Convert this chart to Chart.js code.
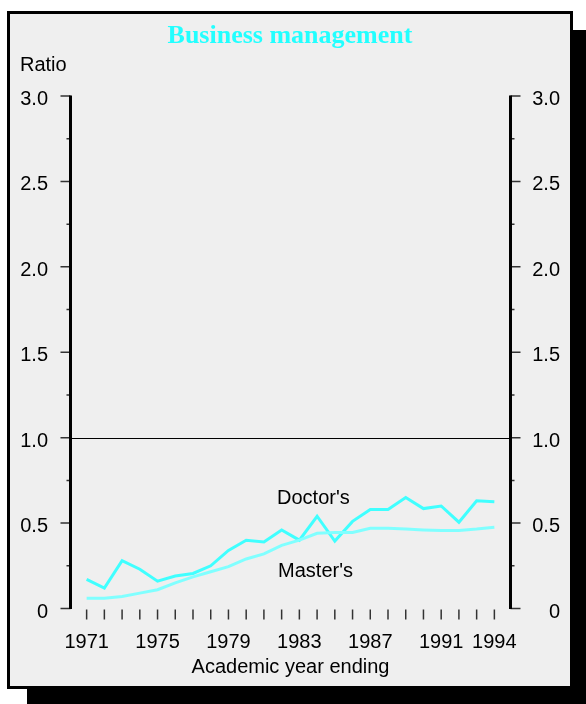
<!DOCTYPE html>
<html>
<head>
<meta charset="utf-8">
<script src="https://cdn.jsdelivr.net/npm/chart.js@4/dist/chart.umd.min.js"></script>
<style>
  html, body { margin: 0; padding: 0; background: #ffffff; }
  #wrap { position: relative; width: 586px; height: 704px; overflow: hidden; }
  #shadow { position: absolute; left: 27px; top: 30px; width: 559px; height: 674px; background: #000; }
  #panel { position: absolute; left: 7px; top: 11px; width: 560px; height: 672px; background: #efefef; border: 3px solid #000; }
  #c { position: absolute; left: 0; top: 0; }
</style>
</head>
<body>
<div id="wrap">
  <div id="shadow"></div>
  <div id="panel"></div>
  <canvas id="c" width="586" height="704"></canvas>
</div>
<script>
const years = [1971,1972,1973,1974,1975,1976,1977,1978,1979,1980,1981,1982,1983,1984,1985,1986,1987,1988,1989,1990,1991,1992,1993,1994];
const doctorRatio = [0.17,0.12,0.28,0.23,0.16,0.19,0.205,0.25,0.34,0.40,0.39,0.46,0.40,0.54,0.395,0.51,0.58,0.58,0.65,0.585,0.60,0.505,0.63,0.625];
const masterRatio = [0.06,0.06,0.07,0.09,0.11,0.15,0.185,0.215,0.245,0.29,0.32,0.37,0.40,0.44,0.445,0.445,0.47,0.47,0.465,0.46,0.457,0.457,0.465,0.476];
const xTickLabels = [1971,1975,1979,1983,1987,1991,1994];
const yTicks = [0,0.25,0.5,0.75,1,1.25,1.5,1.75,2,2.25,2.5,2.75,3];
const yTickLabels = ["0","","0.5","","1.0","","1.5","","2.0","","2.5","","3.0"];
const titleText = "Business management";
const yTitle = "Ratio";
const xTitle = "Academic year ending";
const seriesLabels = [
  { text: "Doctor's", x: 1981.74, y: 0.612 },
  { text: "Master's", x: 1981.8, y: 0.184 }
];

const SANS = '"Liberation Sans", Arial, sans-serif';
const SERIF = '"Liberation Serif", "Times New Roman", serif';

const decor = {
  id: 'decor',
  beforeDatasetsDraw(chart) {
    const ctx = chart.ctx;
    const xs = chart.scales.x, ys = chart.scales.y;
    const a = chart.chartArea;
    ctx.save();
    // reference line at 1.0
    ctx.strokeStyle = '#000';
    ctx.lineWidth = 1;
    const y1 = Math.round(ys.getPixelForValue(1)) + 0.5;
    ctx.beginPath(); ctx.moveTo(a.left, y1); ctx.lineTo(a.right, y1); ctx.stroke();
    ctx.restore();
  },
  afterDatasetsDraw(chart) {
    const ctx = chart.ctx;
    const xs = chart.scales.x, ys = chart.scales.y;
    const a = chart.chartArea;
    const top = ys.getPixelForValue(3), bot = ys.getPixelForValue(0);
    ctx.save();
    // y ticks (both sides)
    ctx.strokeStyle = '#333';
    ctx.lineWidth = 1.5;
    yTicks.forEach((v, i) => {
      const y = ys.getPixelForValue(v);
      const len = yTickLabels[i] !== "" ? 10 : 4;
      ctx.beginPath();
      ctx.moveTo(a.left - len, y); ctx.lineTo(a.left, y);
      ctx.moveTo(a.right, y); ctx.lineTo(a.right + len, y);
      ctx.stroke();
    });
    // axis lines
    ctx.strokeStyle = '#000';
    ctx.lineWidth = 3;
    ctx.beginPath();
    ctx.moveTo(a.left, top - 0.5); ctx.lineTo(a.left, bot + 0.5);
    ctx.moveTo(a.right, top - 0.5); ctx.lineTo(a.right, bot + 0.5);
    ctx.stroke();
    // x ticks
    ctx.strokeStyle = '#333';
    ctx.lineWidth = 1.5;
    years.forEach(yr => {
      const x = xs.getPixelForValue(yr);
      ctx.beginPath(); ctx.moveTo(x, bot + 1); ctx.lineTo(x, bot + 11); ctx.stroke();
    });
    // texts
    ctx.fillStyle = '#000';
    ctx.font = '20px ' + SANS;
    ctx.textBaseline = 'alphabetic';
    yTicks.forEach((v, i) => {
      if (yTickLabels[i] === "") return;
      const y = ys.getPixelForValue(v) + 9;
      ctx.textAlign = 'right';
      ctx.fillText(yTickLabels[i], 48, y);
      ctx.fillText(yTickLabels[i], 560, y);
    });
    ctx.textAlign = 'center';
    xTickLabels.forEach(yr => {
      ctx.fillText(String(yr), xs.getPixelForValue(yr), 648);
    });
    ctx.fillText(xTitle, 290.5, 673);
    ctx.textAlign = 'left';
    ctx.fillText(yTitle, 20, 71);
    seriesLabels.forEach(l => {
      ctx.fillText(l.text, xs.getPixelForValue(l.x), ys.getPixelForValue(l.y));
    });
    ctx.font = 'bold 26px ' + SERIF;
    ctx.fillStyle = '#22ffff';
    ctx.textAlign = 'center';
    ctx.fillText(titleText, 290, 43);
    ctx.restore();
  }
};

new Chart(document.getElementById('c'), {
  type: 'line',
  data: {
    datasets: [
      {
        label: "Master's",
        data: years.map((y, i) => ({ x: y, y: masterRatio[i] })),
        borderColor: '#80ffff',
        borderWidth: 3,
        pointRadius: 0,
        tension: 0,
        fill: false
      },
      {
        label: "Doctor's",
        data: years.map((y, i) => ({ x: y, y: doctorRatio[i] })),
        borderColor: '#40ffff',
        borderWidth: 3,
        pointRadius: 0,
        tension: 0,
        fill: false
      }
    ]
  },
  options: {
    responsive: false,
    animation: false,
    devicePixelRatio: 1,
    layout: { padding: { left: 70.5, right: 75.5, top: 96, bottom: 95.5 } },
    plugins: { legend: { display: false }, tooltip: { enabled: false }, title: { display: false } },
    scales: {
      x: { type: 'linear', min: 1970.09, max: 1994.91, display: false },
      y: { type: 'linear', min: 0, max: 3, display: false }
    }
  },
  plugins: [decor]
});
</script>
</body>
</html>
